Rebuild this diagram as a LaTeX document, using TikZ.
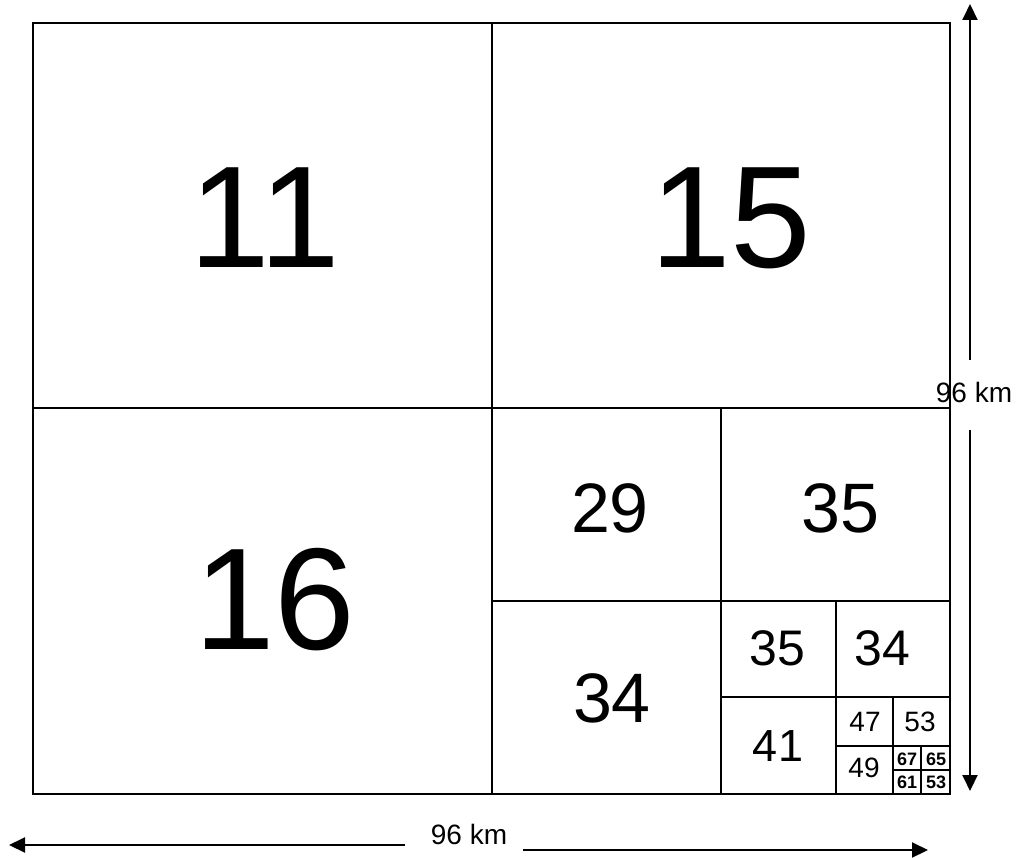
\documentclass[tikz,border=0pt]{standalone}
\usepackage{fontspec}
\setmainfont{Liberation Sans}
\usetikzlibrary{arrows.meta}
\begin{document}
\begin{tikzpicture}[x=1pt,y=-1pt,
  grid/.style={line width=1.6pt,black},
  lbl/.style={inner sep=0pt,anchor=center},
  fsA/.style={font=\fontsize{145}{150}\selectfont},
  fsB/.style={font=\fontsize{70}{74}\selectfont},
  fsC/.style={font=\fontsize{50}{54}\selectfont},
  fsD/.style={font=\fontsize{45}{48}\selectfont},
  fsE/.style={font=\fontsize{28}{30}\selectfont},
  fsF/.style={font=\bfseries\fontsize{18}{19}\selectfont},
  dim/.style={line width=2pt,-{Triangle[length=16pt,width=15pt]}},
  dimlbl/.style={inner sep=0pt,font=\fontsize{28}{30}\selectfont}]
\useasboundingbox (0,0) rectangle (1016,858);
% grid
\draw[grid] (33,23) rectangle (950,794);
\draw[grid] (492,23) -- (492,794);
\draw[grid] (33,408) -- (950,408);
\draw[grid] (721,408) -- (721,794);
\draw[grid] (492,601) -- (950,601);
\draw[grid] (836,601) -- (836,794);
\draw[grid] (721,697) -- (950,697);
\draw[grid] (893,697) -- (893,794);
\draw[grid] (836,746) -- (950,746);
\draw[grid] (921,746) -- (921,794);
\draw[grid] (893,770) -- (950,770);
% labels
\node[lbl,fsA] (n11) at (265,218) {11};
\node[lbl,fsA] (n15) at (731,218) {15};
\node[lbl,fsA] (n16) at (275,600) {16};
\node[lbl,fsB] (n29) at (610,508) {29};
\node[lbl,fsB] (n35a) at (840,508) {35};
\node[lbl,fsB] (n34a) at (612,698) {34};
\node[lbl,fsC] (n35b) at (777,648) {35};
\node[lbl,fsC] (n34b) at (882,648) {34};
\node[lbl,fsD] (n41) at (778,746) {41};
\node[lbl,fsE] (n47) at (865,722) {47};
\node[lbl,fsE] (n53a) at (920,722) {53};
\node[lbl,fsE] (n49) at (864,768) {49};
\node[lbl,fsF] (n67) at (907,759) {67};
\node[lbl,fsF] (n65) at (936,759) {65};
\node[lbl,fsF] (n61) at (907,782) {61};
\node[lbl,fsF] (n53b) at (936,782) {53};
% dimension arrows
\node[dimlbl] (vlbl) at (974,392) {96 km};
\coordinate (vtop) at (970,4);
\coordinate (vbot) at (970,791);
\coordinate (vgap1) at (970,360);
\coordinate (vgap2) at (970,430);
\draw[dim] (vgap1) -- (vtop);
\draw[dim] (vgap2) -- (vbot);
\node[dimlbl] (hlbl) at (469,834) {96 km};
\coordinate (hl) at (9,845);
\coordinate (hl2) at (405,845);
\coordinate (hr) at (928,850);
\coordinate (hr2) at (523,850);
\draw[dim] (hl2) -- (hl);
\draw[dim] (hr2) -- (hr);
\end{tikzpicture}
\end{document}
